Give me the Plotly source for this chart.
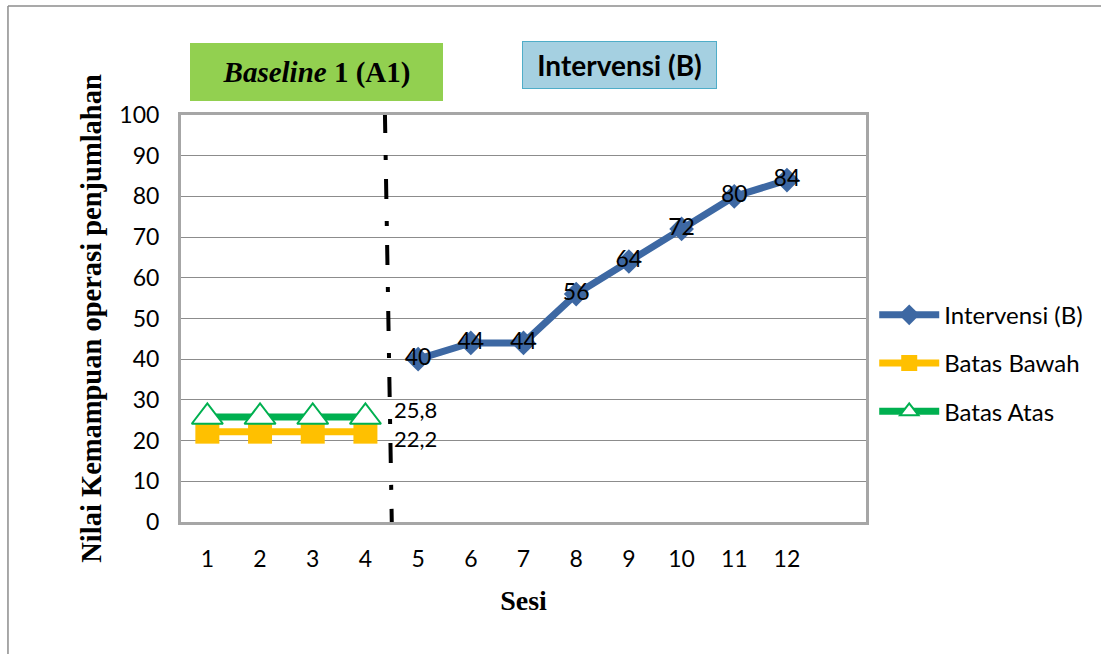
import plotly.graph_objects as go

# ---- data ----
sesi_baseline = [1, 2, 3, 4]
batas_bawah = [22.2, 22.2, 22.2, 22.2]
batas_atas = [25.8, 25.8, 25.8, 25.8]
sesi_intervensi = [5, 6, 7, 8, 9, 10, 11, 12]
intervensi = [40, 44, 44, 56, 64, 72, 80, 84]
x_ticks = list(range(1, 13))
y_ticks = list(range(0, 101, 10))
phase_change = 4.5

SANS = "Lato, 'Open Sans', sans-serif"
SERIF = "'Liberation Serif', 'Times New Roman', serif"

fig = go.Figure()

fig.add_trace(go.Scatter(
    x=sesi_intervensi, y=intervensi, name="Intervensi (B)",
    mode="lines+markers+text", text=[str(v) for v in intervensi],
    textposition="middle center", textfont=dict(family=SANS, size=23, color="black"),
    line=dict(color="#3D68A3", width=7),
    marker=dict(symbol="diamond", size=19, color="#3D68A3"),
    legendgroup="a", cliponaxis=False,
))
fig.add_trace(go.Scatter(
    x=sesi_baseline, y=batas_bawah, name="Batas Bawah",
    mode="lines+markers",
    line=dict(color="#FFC000", width=7),
    marker=dict(symbol="square", size=24, color="#FFC000"),
    legendgroup="b", cliponaxis=False,
))
fig.add_trace(go.Scatter(
    x=sesi_baseline, y=batas_atas, name="Batas Atas",
    mode="lines+markers",
    line=dict(color="#00B050", width=7),
    marker=dict(symbol="triangle-up", size=27, color="white",
                line=dict(color="#00B050", width=2)),
    legendgroup="c", cliponaxis=False,
))

# value labels for the baseline bands
fig.add_annotation(x=sesi_baseline[-1], y=batas_atas[-1], text="25,8",
                   showarrow=False, xanchor="left", xshift=27, yshift=7,
                   font=dict(family=SANS, size=22, color="black"))
fig.add_annotation(x=sesi_baseline[-1], y=batas_bawah[-1], text="22,2",
                   showarrow=False, xanchor="left", xshift=27, yshift=-7,
                   font=dict(family=SANS, size=22, color="black"))

# phase change line
fig.add_shape(type="line", xref="x", yref="y",
              x0=phase_change - 0.13, y0=100.5, x1=phase_change, y1=0,
              line=dict(color="black", width=4, dash="20px,22px,5px,19px"))

# phase headers
fig.add_annotation(xref="paper", yref="paper", x=0.1978, y=1.1057,
                   xanchor="center", yanchor="middle",
                   text="<i>Baseline</i> 1 (A1)", showarrow=False,
                   width=253, height=58, bgcolor="#92D050", borderpad=0, borderwidth=0,
                   font=dict(family=SERIF, size=29, color="black", weight="bold"))
fig.add_annotation(xref="paper", yref="paper", x=0.6401, y=1.1229,
                   xanchor="center", yanchor="middle",
                   text="<b>Intervensi (B)</b>", showarrow=False,
                   width=193, height=46, bgcolor="#A5D0E1", bordercolor="#4FADC8",
                   borderwidth=1, borderpad=0,
                   font=dict(family=SANS, size=28, color="black"))

# outer chart border (top and left)
fig.add_shape(type="line", xref="paper", yref="paper",
              x0=-0.2526, y0=1.268, x1=1.4, y1=1.268,
              line=dict(color="#8C8C8C", width=1.5))
fig.add_shape(type="line", xref="paper", yref="paper",
              x0=-0.2526, y0=1.268, x1=-0.2526, y1=-0.4,
              line=dict(color="#8C8C8C", width=1.5))

fig.update_layout(
    width=1101, height=654,
    margin=dict(l=181, r=235, t=115, b=132),
    paper_bgcolor="white", plot_bgcolor="white",
    showlegend=True,
    legend=dict(x=1.012, y=0.39, xanchor="left", yanchor="middle",
                font=dict(family=SANS, size=24, color="black"),
                itemwidth=60, traceorder="grouped", tracegroupgap=14,
                bgcolor="rgba(0,0,0,0)"),
    xaxis=dict(range=[0.5, 13.5], tickvals=x_ticks, ticktext=[str(t) for t in x_ticks],
               showgrid=False, zeroline=False,
               showline=True, linecolor="#A6A6A6", linewidth=3, mirror=True,
               ticks="", ticklabelstandoff=14,
               tickfont=dict(family=SANS, size=23, color="black"),
               title=dict(text="Sesi", standoff=20,
                          font=dict(family=SERIF, size=28, color="black", weight="bold"))),
    yaxis=dict(range=[0, 100], tickvals=y_ticks,
               showgrid=True, gridcolor="#8C8C8C", gridwidth=1, zeroline=False,
               showline=True, linecolor="#A6A6A6", linewidth=3, mirror=True,
               ticks="", ticklabelstandoff=14,
               tickfont=dict(family=SANS, size=23, color="black"),
               title=dict(text="Nilai Kemampuan operasi penjumlahan", standoff=10,
                          font=dict(family=SERIF, size=28.5, color="black", weight="bold"))),
)

fig.write_html("out.html")
